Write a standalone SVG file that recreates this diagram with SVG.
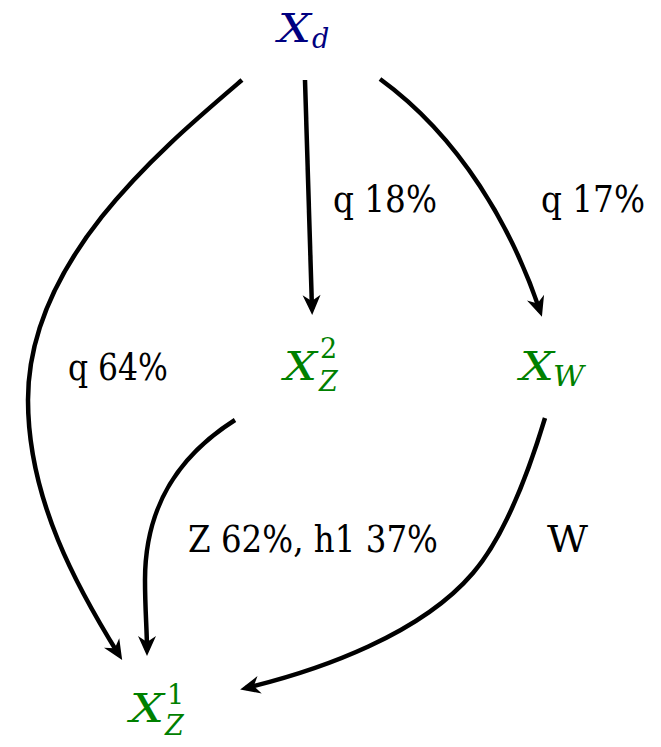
<svg xmlns="http://www.w3.org/2000/svg" width="661" height="747" viewBox="0 0 661 747">
<style>
.bg{fill:#ffffff}
text{font-family:"DejaVu Serif","Liberation Serif",serif}
.lbl{font-size:38px;fill:#000000}
.mi{font-style:italic;font-size:40px}
.sub{font-style:italic;font-size:27px}
.sup{font-size:27px}
.blue{fill:#000080}
.green{fill:#008000}
</style>
<defs>
<marker id="stealth" markerUnits="userSpaceOnUse" viewBox="-16 -11 24 22" refX="0" refY="0" markerWidth="24" markerHeight="22" orient="auto" overflow="visible">
<path d="M6,0 L-14,-9 L-8,0 L-14,9 Z" fill="#000000"/>
</marker>
</defs>
<rect class="bg" x="0" y="0" width="661" height="747"/>
<g id="connectors" fill="none" stroke="#000000">
<path stroke-width="4.5" d="M242,80 C160,150 28,260 28,400 C28,500 78,589 119,655" marker-end="url(#stealth)"/>
<path stroke-width="4.5" d="M305,80 L312,309" marker-end="url(#stealth)"/>
<path stroke-width="4.5" d="M380,79 C461,138 512,228 540,311" marker-end="url(#stealth)"/>
<path stroke-width="4.5" d="M235,420 C175,458 145,510 145,580 C145,610 147,630 147,650" marker-end="url(#stealth)"/>
<path stroke-width="4.5" d="M545,418 C530.5,466 505.5,535 473,573 C421,634 321.6,669.8 246,688" marker-end="url(#stealth)"/>
</g>
<g id="edge-labels">
<text class="lbl" x="333" y="212" textLength="104" lengthAdjust="spacingAndGlyphs">q 18%</text>
<text class="lbl" x="541" y="212" textLength="104" lengthAdjust="spacingAndGlyphs">q 17%</text>
<text class="lbl" x="68" y="380" textLength="100" lengthAdjust="spacingAndGlyphs">q 64%</text>
<text class="lbl" x="188" y="552" textLength="250" lengthAdjust="spacingAndGlyphs">Z 62%, h1 37%</text>
<text class="lbl" x="547" y="552" textLength="41" lengthAdjust="spacingAndGlyphs">W</text>
</g>
<g id="node-Xd">
<text class="mi blue" x="278" y="42" textLength="33" lengthAdjust="spacingAndGlyphs">X</text>
<text class="sub blue" x="312" y="48">d</text>
</g>
<g id="node-XZ2">
<text class="mi green" x="284" y="380" textLength="33" lengthAdjust="spacingAndGlyphs">X</text>
<text class="sup green" x="320" y="358">2</text>
<text class="sub green" x="319" y="391">Z</text>
</g>
<g id="node-XW">
<text class="mi green" x="520" y="380" textLength="34" lengthAdjust="spacingAndGlyphs">X</text>
<text class="sub green" x="553" y="386" textLength="31" lengthAdjust="spacingAndGlyphs">W</text>
</g>
<g id="node-XZ1">
<text class="mi green" x="130" y="722" textLength="34" lengthAdjust="spacingAndGlyphs">X</text>
<text class="sup green" x="167" y="704">1</text>
<text class="sub green" x="165" y="735">Z</text>
</g>
</svg>
